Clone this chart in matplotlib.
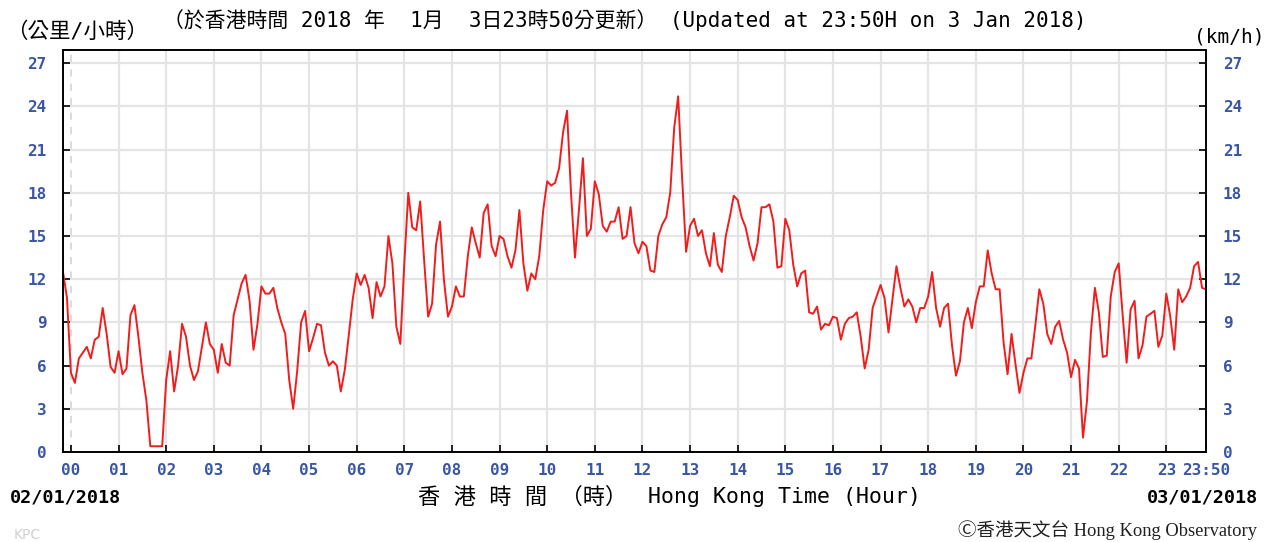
import matplotlib
matplotlib.use("Agg")
import matplotlib.pyplot as plt
import numpy as np

# 5-minute wind speed readings (km/h), 23:50 on 02/01 to 23:50 on 03/01
start_minute = -10
step_minutes = 5
speed_prev_day = [12.5, 10.7]
speed_by_hour = [
    [5.5, 4.8, 6.5, 6.9, 7.3, 6.5, 7.8, 8.0, 10.0, 8.2, 5.9, 5.5],
    [7.0, 5.4, 5.8, 9.5, 10.2, 8.0, 5.5, 3.6, 0.4, 0.4, 0.4, 0.4],
    [5.0, 7.0, 4.2, 6.0, 8.9, 8.0, 6.0, 5.0, 5.6, 7.3, 9.0, 7.5],
    [7.1, 5.5, 7.5, 6.2, 6.0, 9.5, 10.6, 11.7, 12.3, 10.5, 7.1, 8.9],
    [11.5, 11.0, 11.0, 11.4, 10.0, 9.0, 8.2, 5.0, 3.0, 5.6, 9.0, 9.8],
    [7.0, 7.9, 8.9, 8.8, 6.9, 6.0, 6.3, 6.0, 4.2, 5.7, 8.1, 10.6],
    [12.4, 11.6, 12.3, 11.4, 9.3, 11.8, 10.8, 11.5, 15.0, 13.1, 8.7, 7.5],
    [13.1, 18.0, 15.6, 15.4, 17.4, 13.3, 9.4, 10.3, 14.4, 16.0, 11.9, 9.4],
    [10.1, 11.5, 10.8, 10.8, 13.6, 15.6, 14.5, 13.5, 16.6, 17.2, 14.3, 13.6],
    [15.0, 14.8, 13.6, 12.8, 14.0, 16.8, 13.1, 11.2, 12.4, 12.0, 13.6, 16.8],
    [18.8, 18.5, 18.7, 19.7, 22.2, 23.7, 18.0, 13.5, 16.8, 20.4, 15.0, 15.5],
    [18.8, 17.9, 15.7, 15.3, 16.0, 16.0, 17.0, 14.8, 15.0, 17.0, 14.5, 13.8],
    [14.6, 14.3, 12.6, 12.5, 15.0, 15.8, 16.3, 18.0, 22.5, 24.7, 19.0, 13.9],
    [15.7, 16.2, 15.0, 15.4, 13.8, 12.9, 15.2, 13.0, 12.5, 15.0, 16.3, 17.8],
    [17.5, 16.3, 15.6, 14.3, 13.3, 14.5, 17.0, 17.0, 17.2, 16.0, 12.8, 12.9],
    [16.2, 15.4, 13.0, 11.5, 12.4, 12.6, 9.7, 9.6, 10.1, 8.5, 8.9, 8.8],
    [9.4, 9.3, 7.8, 8.9, 9.3, 9.4, 9.7, 8.0, 5.8, 7.1, 10.0, 10.8],
    [11.6, 10.7, 8.3, 10.6, 12.9, 11.4, 10.1, 10.6, 10.1, 9.0, 10.0, 10.0],
    [10.8, 12.5, 10.0, 8.7, 10.0, 10.3, 7.4, 5.3, 6.3, 9.0, 10.0, 8.6],
    [10.4, 11.5, 11.5, 14.0, 12.4, 11.3, 11.3, 7.6, 5.4, 8.2, 6.1, 4.1],
    [5.5, 6.5, 6.5, 8.8, 11.3, 10.3, 8.2, 7.5, 8.7, 9.1, 7.8, 6.9],
    [5.2, 6.4, 5.8, 1.0, 3.5, 8.3, 11.4, 9.7, 6.6, 6.7, 10.8, 12.5],
    [13.1, 9.5, 6.2, 9.9, 10.5, 6.5, 7.4, 9.4, 9.6, 9.8, 7.3, 8.1],
    [11.0, 9.4, 7.1, 11.3, 10.4, 10.8, 11.4, 12.9, 13.2, 11.4, 11.3],
]

hour_labels = ["%02d" % h for h in range(24)] + ["23:50"]
y_ticks = list(range(0, 28, 3))

speeds = np.array(speed_prev_day + [v for row in speed_by_hour for v in row])
hours = (start_minute + step_minutes * np.arange(len(speeds))) / 60.0

blue = "#3a57a6"
mono = ["DejaVu Sans Mono", "Noto Sans CJK TC"]

fig = plt.figure(figsize=(12.7, 5.42), dpi=100)
ax = fig.add_axes([63 / 1270, 1 - 452 / 542, (1206 - 63) / 1270, (452 - 50) / 542])

ax.plot(hours, speeds, color="#f21c1c", lw=1.4)

ax.set_xlim(-10 / 60, 23 + 50 / 60)
ax.set_ylim(0, 402 / 14.4)

# grid
for y in y_ticks[1:]:
    ax.axhline(y, color="#e4e4e4", lw=1.6, zorder=0)
for h in range(1, 24):
    ax.axvline(h, color="#e4e4e4", lw=1.6, zorder=0)
ax.axvline(0, color="#d8d8d8", lw=1.3, ls=(0, (4, 4)), zorder=0)

ax.set_xticks(list(range(24)) + [23 + 50 / 60])
ax.set_xticklabels(hour_labels)
ax.set_yticks(y_ticks)
ax.set_yticklabels([str(v) for v in y_ticks])
ax.yaxis.set_ticks_position("both")
ax.tick_params(axis="y", which="both", direction="in", length=5, width=1.2,
               labelright=True, pad=12, labelcolor=blue)
ax.tick_params(axis="x", direction="in", length=5, width=1.2, pad=8, labelcolor=blue)
for lab in ax.get_xticklabels() + ax.get_yticklabels():
    lab.set_fontfamily("DejaVu Sans Mono")
    lab.set_fontweight("bold")
    lab.set_fontsize(11.5)
for sp in ax.spines.values():
    sp.set_linewidth(1.4)

# header texts
fig.text(6 / 1270, 1 - 32 / 542, "（公里/小時）", family=mono, fontsize=15.5, va="center")
fig.text(163 / 1270, 1 - 20 / 542,
         "（於香港時間 2018 年  1月  3日23時50分更新） (Updated at 23:50H on 3 Jan 2018)",
         family=mono, fontsize=15, va="center")
fig.text(1264 / 1270, 1 - 37 / 542, "(km/h)", family=mono, fontsize=14, va="center", ha="right")

# footer texts
fig.text(10 / 1270, 1 - 497 / 542, "02/01/2018", family="DejaVu Sans Mono",
         fontweight="bold", fontsize=13.3, va="center")
fig.text(1258 / 1270, 1 - 497 / 542, "03/01/2018", family="DejaVu Sans Mono",
         fontweight="bold", fontsize=13.3, va="center", ha="right")
fig.text(418 / 1270, 1 - 497 / 542, "香 港 時 間 （時）",
         family=mono, fontsize=16, va="center", ha="left")
fig.text(648 / 1270, 1 - 497 / 542, "Hong Kong Time (Hour)",
         family=mono, fontsize=15.5, va="center", ha="left")
fig.text(14 / 1270, 1 - 535 / 542, "KPC", family="DejaVu Sans", fontsize=10,
         color="#d0d0d0", va="center")
fig.text(1257 / 1270, 1 - 530 / 542, "Ⓒ香港天文台 Hong Kong Observatory",
         family=["Liberation Serif", "Noto Sans CJK TC", "DejaVu Sans"], fontsize=13.3,
         va="center", ha="right", color="#202020")

fig.savefig("out.png", dpi=100)
